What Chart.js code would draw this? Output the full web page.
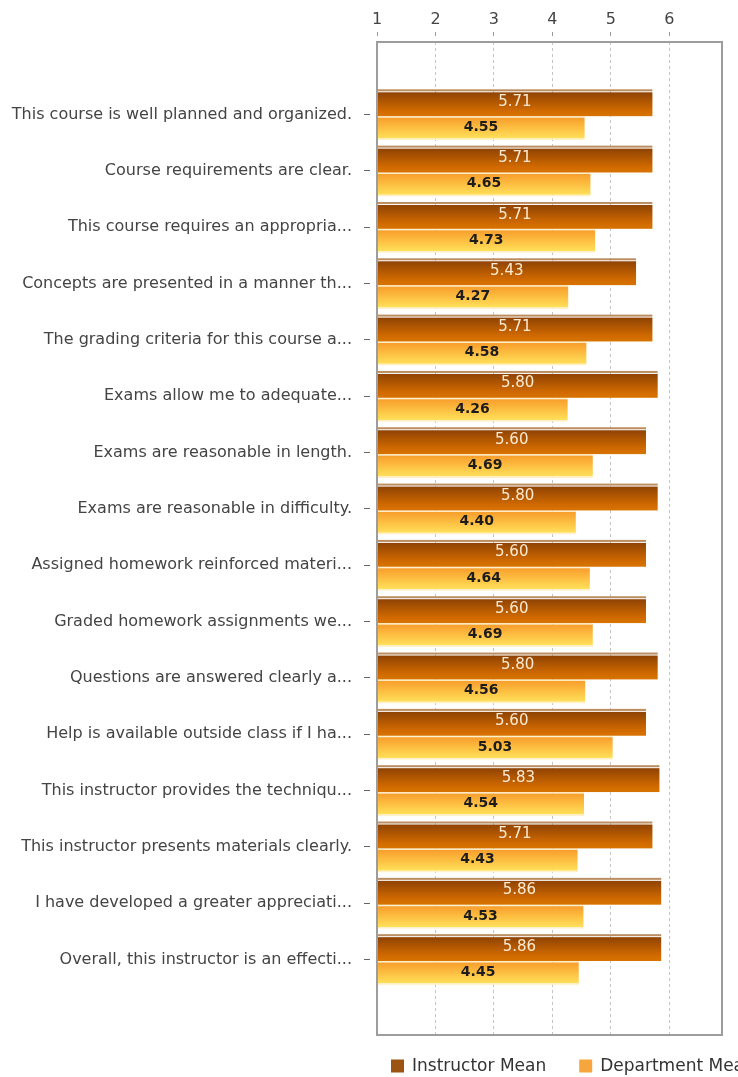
<!DOCTYPE html>
<html>
<head>
<meta charset="utf-8">
<title>Course evaluation means</title>
<script src="https://cdn.jsdelivr.net/npm/chart.js@4/dist/chart.umd.min.js"></script>
<style>
  html, body { margin: 0; padding: 0; background: #fff; }
  #wrap { width: 738px; height: 1077px; position: relative; }
</style>
</head>
<body>
<div id="wrap"><canvas id="meansChart"></canvas></div>
<script>
// questions, top to bottom
var questions = [
  'This course is well planned and organized.',
  'Course requirements are clear.',
  'This course requires an appropria...',
  'Concepts are presented in a manner th...',
  'The grading criteria for this course a...',
  'Exams allow me to adequate...',
  'Exams are reasonable in length.',
  'Exams are reasonable in difficulty.',
  'Assigned homework reinforced materi...',
  'Graded homework assignments we...',
  'Questions are answered clearly a...',
  'Help is available outside class if I ha...',
  'This instructor provides the techniqu...',
  'This instructor presents materials clearly.',
  'I have developed a greater appreciati...',
  'Overall, this instructor is an effecti...'
];
var instructorMean = [5.71, 5.71, 5.71, 5.43, 5.71, 5.80, 5.60, 5.80, 5.60, 5.60, 5.80, 5.60, 5.83, 5.71, 5.86, 5.86];
var departmentMean = [4.55, 4.65, 4.73, 4.27, 4.58, 4.26, 4.69, 4.40, 4.64, 4.69, 4.56, 5.03, 4.54, 4.43, 4.53, 4.45];
var scoreTicks = [1, 2, 3, 4, 5, 6];
var seriesNames = ['Instructor Mean', 'Department Mean'];

Chart.defaults.font.family = "'DejaVu Sans', sans-serif";
Chart.defaults.color = '#444';

function toPoints(values) {
  return values.map(function (v, i) { return { x: v, y: i }; });
}

// glossy bars, drawn in place of the default rectangles
var glossBars = {
  id: 'glossBars',
  beforeDatasetDraw: function (chart, args) {
    var ctx = chart.ctx;
    var idx = args.index;
    ctx.save();
    args.meta.data.forEach(function (el) {
      var p = el.getProps(['x', 'y', 'base', 'height'], true);
      var left = Math.min(p.base, p.x), w = Math.abs(p.x - p.base);
      var top = p.y - p.height / 2, bottom = p.y + p.height / 2;
      var g;
      if (idx === 0) {
        bottom += 1.5;
        ctx.fillStyle = '#bb8d60';
        ctx.fillRect(left, top, w, 2);
        g = ctx.createLinearGradient(0, top + 3, 0, bottom);
        g.addColorStop(0, '#8f4304');
        g.addColorStop(0.75, '#cf6900');
        g.addColorStop(1, '#d87400');
        ctx.fillStyle = g;
        ctx.fillRect(left, top + 3, w, bottom - top - 3);
      } else {
        top += 1.5;
        ctx.fillStyle = '#fff1cc';
        ctx.fillRect(left, top, w, 1.5);
        g = ctx.createLinearGradient(0, top + 1.5, 0, bottom - 1.5);
        g.addColorStop(0, '#f79e2c');
        g.addColorStop(0.5, '#fdbf42');
        g.addColorStop(1, '#ffe05a');
        ctx.fillStyle = g;
        ctx.fillRect(left, top + 1.5, w, bottom - top - 3);
        ctx.fillStyle = '#fff0c8';
        ctx.fillRect(left, bottom - 1.5, w, 1.5);
      }
    });
    ctx.restore();
    return false;
  },
  afterDatasetsDraw: function (chart) {
    var ctx = chart.ctx;
    var a = chart.chartArea;
    ctx.save();
    // value labels
    ctx.textAlign = 'center';
    ctx.textBaseline = 'middle';
    chart.data.datasets.forEach(function (ds, di) {
      var meta = chart.getDatasetMeta(di);
      ctx.font = di === 0 ? '15px "DejaVu Sans"' : 'bold 14px "DejaVu Sans"';
      ctx.fillStyle = di === 0 ? '#fdebd3' : '#1c1c1c';
      meta.data.forEach(function (el, i) {
        var p = el.getProps(['x', 'y', 'base'], true);
        ctx.fillText(ds.data[i].x.toFixed(2), (p.x + p.base) / 2, p.y);
      });
    });
    // plot frame
    ctx.strokeStyle = '#9d9d9d';
    ctx.lineWidth = 2;
    ctx.strokeRect(a.left, a.top, a.right - a.left, a.bottom - a.top);
    ctx.restore();
  }
};

// legend row under the plot, runs off the right edge like the original
var legendRow = {
  id: 'legendRow',
  afterDraw: function (chart, args, opts) {
    var ctx = chart.ctx;
    var x = opts.x, y = opts.y;
    ctx.save();
    ctx.font = '17px "DejaVu Sans"';
    ctx.textBaseline = 'middle';
    chart.data.datasets.forEach(function (ds) {
      ctx.fillStyle = ds.backgroundColor;
      ctx.fillRect(x, y - 6.5, 13, 13);
      ctx.fillStyle = '#333';
      ctx.fillText(ds.label, x + 21, y + 1);
      x += 21 + ctx.measureText(ds.label).width + 33;
    });
    ctx.restore();
  }
};

new Chart(document.getElementById('meansChart'), {
  type: 'bar',
  data: {
    datasets: [
      { label: seriesNames[0], data: toPoints(instructorMean), backgroundColor: '#9c5412', base: 1 },
      { label: seriesNames[1], data: toPoints(departmentMean), backgroundColor: '#f7a63e', base: 1 }
    ]
  },
  options: {
    indexAxis: 'y',
    responsive: true,
    maintainAspectRatio: false,
    animation: false,
    layout: { padding: { left: 0, right: 16, top: 0, bottom: 42 } },
    datasets: { bar: { categoryPercentage: 0.9, barPercentage: 1.0 } },
    scales: {
      x: {
        type: 'linear',
        position: 'top',
        min: 1,
        max: 6.9,
        afterBuildTicks: function (s) { s.ticks = scoreTicks.map(function (v) { return { value: v }; }); },
        afterFit: function (s) { s.height = 42; },
        ticks: { font: { size: 16 }, color: '#444', padding: 3 },
        grid: {
          color: '#c4c4c4',
          tickLength: 10,
          tickColor: '#999',
          tickBorderDash: [4, 40]
        },
        border: { display: false, dash: [3, 3] }
      },
      y: {
        type: 'linear',
        reverse: true,
        offset: false,
        min: -1.29,
        max: 16.34,
        afterBuildTicks: function (s) { s.ticks = questions.map(function (q, i) { return { value: i }; }); },
        afterFit: function (s) { s.width = 377; },
        ticks: {
          font: { size: 16 },
          color: '#444',
          padding: 12,
          callback: function (v) { return questions[v]; }
        },
        grid: {
          offset: false,
          drawOnChartArea: false,
          tickLength: 13,
          tickColor: '#666',
          tickBorderDash: [6, 40]
        },
        border: { display: false }
      }
    },
    plugins: {
      legend: { display: false },
      tooltip: { enabled: false },
      legendRow: { x: 391, y: 1066 }
    }
  },
  plugins: [glossBars, legendRow]
});
</script>
</body>
</html>
